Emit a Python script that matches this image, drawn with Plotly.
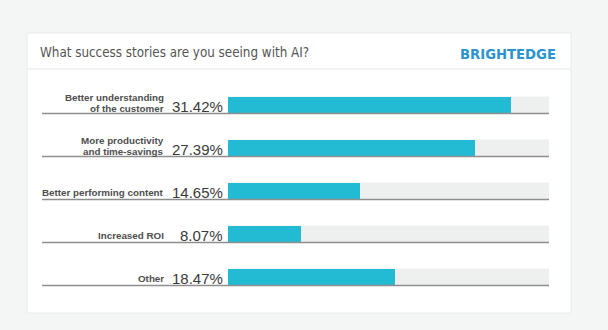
import plotly.graph_objects as go

W, H = 608, 330

title_text = "What success stories are you seeing with AI?"
brand_text = "BRIGHTEDGE"
categories = ["Better understanding\nof the customer",
              "More productivity\nand time-savings",
              "Better performing content",
              "Increased ROI",
              "Other"]
values = [31.42, 27.39, 14.65, 8.07, 18.47]
x_max = 35.6

BAR = "#22bbd3"
TRACK = "#eeefef"
RULE = "#8e8e8e"
COND = "DejaVu Sans Condensed, sans-serif"
SANS = "Liberation Sans, Arial, Helvetica, sans-serif"

def px(x):
    return x / W

def py(y):
    return 1 - y / H

idx = list(range(len(categories)))
bw = 0.4

fig = go.Figure()
fig.add_trace(go.Bar(
    x=values, y=idx, orientation="h", width=bw,
    marker=dict(color=BAR, line=dict(width=0)),
    hoverinfo="skip", showlegend=False,
))

shapes = []
# card
shapes.append(dict(type="rect", xref="paper", yref="paper",
                   x0=px(27), x1=px(571), y0=py(313), y1=py(33),
                   fillcolor="white", line=dict(color="#e8eaea", width=1), layer="below"))
# header divider
shapes.append(dict(type="line", xref="paper", yref="paper",
                   x0=px(27), x1=px(571), y0=py(69), y1=py(69),
                   line=dict(color="#eeeeee", width=1.5), layer="below"))
for i in idx:
    shapes.append(dict(type="rect", xref="x domain", yref="y",
                       x0=0, x1=1, y0=i - bw / 2, y1=i + bw / 2,
                       fillcolor=TRACK, line=dict(width=0), layer="below"))
    shapes.append(dict(type="line", xref="paper", yref="y",
                       x0=px(42), x1=px(549), y0=i + bw / 2, y1=i + bw / 2,
                       line=dict(color=RULE, width=1.5), layer="above"))

ann = []
ann.append(dict(text=title_text, xref="paper", yref="paper", x=px(38), y=py(52),
                xanchor="left", yanchor="middle", showarrow=False,
                font=dict(family=COND, size=13.3, color="#555555")))
ann.append(dict(text="<b>" + brand_text + "</b>", xref="paper", yref="paper",
                x=px(558), y=py(53), xanchor="right", yanchor="middle", showarrow=False,
                font=dict(family=COND, size=14.7, color="#2b93d0")))
for i, (cat, v) in enumerate(zip(categories, values)):
    lines = cat.split("\n")
    if len(lines) == 1:
        shifts = [-1]
    else:
        shifts = [7.5, -3]
    for line, s in zip(lines, shifts):
        ann.append(dict(text="<b>" + line + "</b>", xref="paper", yref="y",
                        x=px(166), y=i, yshift=s, xanchor="right", yanchor="middle",
                        showarrow=False,
                        font=dict(family=SANS, size=9.8, color="#4e4e4e")))
    ann.append(dict(text=f"{v:.2f}%", xref="paper", yref="y",
                    x=px(225), y=i, yshift=-1, xanchor="right", yanchor="middle",
                    showarrow=False,
                    font=dict(family=SANS, size=15, color="#3a3a3a")))

fig.update_layout(
    width=W, height=H,
    margin=dict(l=0, r=0, t=0, b=0),
    paper_bgcolor="#f4f5f5",
    plot_bgcolor="rgba(0,0,0,0)",
    xaxis=dict(domain=[px(228), px(549)], range=[0, x_max], visible=False,
               fixedrange=True),
    yaxis=dict(domain=[py(298.5), py(83.5)], range=[4.5, -0.5], visible=False,
               fixedrange=True),
    shapes=shapes,
    annotations=ann,
    bargap=0,
)

fig.write_html("out.html", config={"displayModeBar": False})
